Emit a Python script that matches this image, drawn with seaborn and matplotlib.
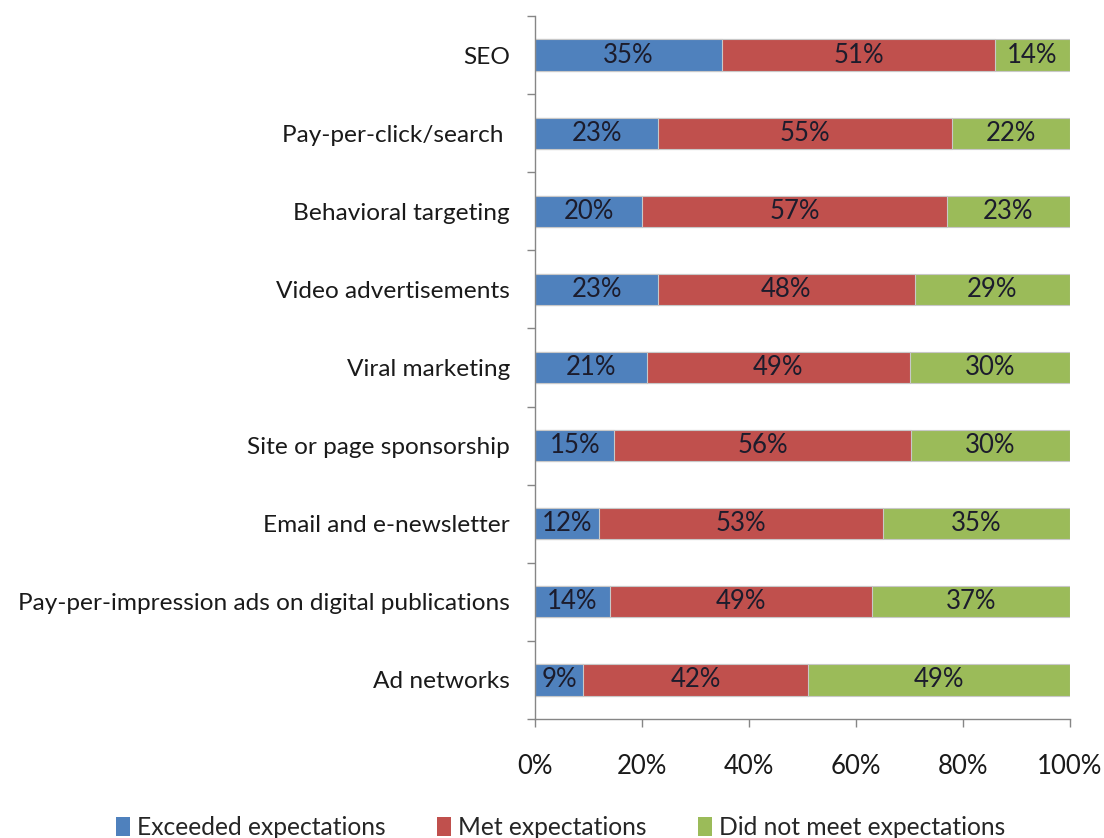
import numpy as np
import pandas as pd
import matplotlib
matplotlib.use("Agg")
import matplotlib.pyplot as plt
import seaborn as sns
from matplotlib.patches import Patch
from matplotlib.ticker import PercentFormatter

categories = [
    "SEO",
    "Pay-per-click/search ",
    "Behavioral targeting",
    "Video advertisements",
    "Viral marketing",
    "Site or page sponsorship",
    "Email and e-newsletter",
    "Pay-per-impression ads on digital publications",
    "Ad networks",
]
exceeded = [35, 23, 20, 23, 21, 15, 12, 14, 9]
met = [51, 55, 57, 48, 49, 56, 53, 49, 42]
not_met = [14, 22, 23, 29, 30, 30, 35, 37, 49]
series_names = ["Exceeded expectations", "Met expectations", "Did not meet expectations"]
colors = ["#4F81BD", "#C0504D", "#9BBB59"]

sns.set_theme(style="white")
plt.rcParams["font.family"] = ["Lato", "DejaVu Sans"]

df = pd.DataFrame({"cat": categories, "exc": exceeded, "met": met, "not": not_met})
total = df[["exc", "met", "not"]].sum(axis=1)
# shares of each row, stacked as 100%
df["s1"] = df["exc"] / total * 100
df["s2"] = (df["exc"] + df["met"]) / total * 100
df["s3"] = 100.0

fig = plt.figure(figsize=(11.04, 8.38), dpi=100)
ax = fig.add_axes([535 / 1104, 1 - 719 / 838, (1070 - 535) / 1104, (719 - 16) / 838])

for col, c in zip(["s3", "s2", "s1"], colors[::-1]):
    sns.barplot(data=df, x=col, y="cat", orient="h", color=c, width=0.4,
                edgecolor="#c8c8c8", linewidth=0.8, ax=ax, saturation=1)

# value labels centred in each segment
for i, row in df.iterrows():
    lefts = [0, row["s1"], row["s2"]]
    rights = [row["s1"], row["s2"], row["s3"]]
    vals = [row["exc"], row["met"], row["not"]]
    for l, r, v in zip(lefts, rights, vals):
        ax.text((l + r) / 2, i, f"{v}%", ha="center", va="center",
                fontsize=18.5, color="#1c1c2c")

ax.set_xlim(0, 100)
ax.set_ylim(len(categories) - 0.5, -0.5)
ax.set_xticks([0, 20, 40, 60, 80, 100])
ax.xaxis.set_major_formatter(PercentFormatter(decimals=0))
ax.set_yticks(np.arange(len(categories) + 1) - 0.5, minor=False)
ax.set_yticklabels([])
ax.set_yticks(np.arange(len(categories)), minor=True)
ax.set_yticklabels(categories, minor=True)
ax.tick_params(axis="y", which="major", length=6, width=1, color="#868686", left=True, direction="out")
ax.tick_params(axis="y", which="minor", length=0, pad=18, labelsize=17.6, labelcolor="#1a1a1a")
ax.tick_params(axis="x", length=6, width=1, color="#868686", bottom=True, direction="out",
               labelsize=18.5, labelcolor="#1a1a1a", pad=19)
ax.set_xlabel("")
ax.set_ylabel("")
for s in ["top", "right"]:
    ax.spines[s].set_visible(False)
for s in ["left", "bottom"]:
    ax.spines[s].set_color("#868686")
    ax.spines[s].set_linewidth(1)

handles = [Patch(facecolor=c, edgecolor="none", label=n) for c, n in zip(colors, series_names)]
fig.legend(handles=handles, loc="center", bbox_to_anchor=(0.508, 0.012), ncol=3, frameon=False,
           fontsize=17.7, handlelength=0.55, handleheight=0.8, handletextpad=0.3, columnspacing=2.1)

fig.savefig("out.png", dpi=100)
